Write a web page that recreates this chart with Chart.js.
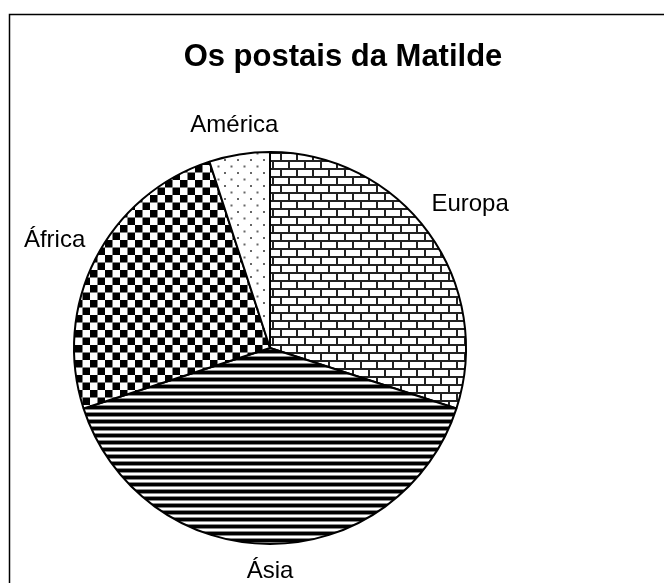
<!DOCTYPE html>
<html>
<head>
<meta charset="utf-8">
<script src="https://cdn.jsdelivr.net/npm/chart.js@4/dist/chart.umd.min.js"></script>
<style>
html,body{margin:0;padding:0;background:#fff;}
#wrap{width:664px;height:583px;position:relative;}
</style>
</head>
<body>
<div id="wrap"><canvas id="c" width="664" height="583"></canvas></div>
<script>
const titleText = "Os postais da Matilde";
const categories = ["Europa", "Ásia", "África", "América"];
const values = [6, 8, 5, 1];

function makeTile(w, h, draw) {
  const c = document.createElement('canvas');
  c.width = w; c.height = h;
  const x = c.getContext('2d');
  x.fillStyle = '#fff'; x.fillRect(0, 0, w, h);
  draw(x, w, h);
  return c;
}
const ctx0 = document.getElementById('c').getContext('2d');
const brick = ctx0.createPattern(makeTile(16, 16, (x) => {
  x.fillStyle = '#222';
  x.fillRect(0, 0, 16, 2);
  x.fillRect(0, 8, 16, 2);
  x.fillRect(0, 0, 2, 8);
  x.fillRect(8, 8, 2, 8);
}), 'repeat');
const stripes = ctx0.createPattern(makeTile(8, 7, (x) => {
  x.fillStyle = '#000'; x.fillRect(0, 0, 8, 3);
  x.fillStyle = '#888'; x.fillRect(0, 3, 8, 1); x.fillRect(0, 6, 8, 1);
}), 'repeat');
const checker = ctx0.createPattern(makeTile(15, 15, (x) => {
  x.fillStyle = '#000';
  x.fillRect(0, 0, 7.5, 7.5);
  x.fillRect(7.5, 7.5, 7.5, 7.5);
}), 'repeat');
const dots = ctx0.createPattern(makeTile(13, 13, (x) => {
  x.fillStyle = '#666';
  x.fillRect(3, 3, 2, 2);
  x.fillRect(9.5, 9.5, 2, 2);
}), 'repeat');
const fills = [brick, stripes, checker, dots];

const framePlugin = {
  id: 'frame',
  beforeDraw(chart) {
    const c = chart.ctx;
    c.save();
    c.fillStyle = '#fff';
    c.fillRect(0, 0, chart.width, chart.height);
    c.strokeStyle = '#000';
    c.lineWidth = 1.5;
    c.strokeRect(9.5, 14.5, 800, 800);
    c.font = 'bold 31px "Liberation Sans", Arial, sans-serif';
    c.fillStyle = '#000';
    c.textAlign = 'center';
    c.textBaseline = 'middle';
    c.fillText(titleText, 343, 57);
    c.restore();
  }
};
const labelPlugin = {
  id: 'outerLabels',
  afterDraw(chart) {
    const c = chart.ctx;
    const meta = chart.getDatasetMeta(0);
    c.save();
    c.font = '24px "Liberation Sans", Arial, sans-serif';
    c.fillStyle = '#000';
    c.textAlign = 'center';
    c.textBaseline = 'middle';
    meta.data.forEach((arc, i) => {
      const p = arc.getProps(['x', 'y', 'startAngle', 'endAngle', 'outerRadius'], true);
      const mid = (p.startAngle + p.endAngle) / 2;
      const label = chart.data.labels[i];
      const hw = c.measureText(label).width / 2;
      const hh = 12;
      const cs = Math.cos(mid), sn = Math.sin(mid);
      const d = p.outerRadius + 13 + hw * Math.abs(cs) + hh * Math.abs(sn);
      c.fillText(label, p.x + cs * d, p.y + sn * d + 2);
    });
    c.restore();
  }
};

new Chart(document.getElementById('c'), {
  type: 'pie',
  data: {
    labels: categories,
    datasets: [{
      data: values,
      backgroundColor: fills,
      borderColor: '#000',
      borderWidth: 2,
      borderAlign: 'center'
    }]
  },
  options: {
    responsive: false,
    animation: false,
    layout: { padding: { left: 73, right: 197, top: 151, bottom: 38 } },
    plugins: {
      legend: { display: false },
      tooltip: { enabled: false },
      title: { display: false }
    }
  },
  plugins: [framePlugin, labelPlugin]
});
</script>
</body>
</html>
